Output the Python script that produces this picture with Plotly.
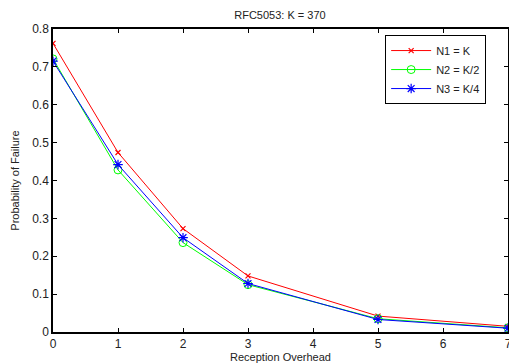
import plotly.graph_objects as go

overhead = [0, 1, 2, 3, 5, 7]
n1_k = [0.762, 0.474, 0.273, 0.148, 0.042, 0.015]
n2_k2 = [0.721, 0.428, 0.236, 0.125, 0.035, 0.011]
n3_k4 = [0.715, 0.442, 0.249, 0.128, 0.033, 0.010]
x_ticks = [0, 1, 2, 3, 4, 5, 6, 7]
y_ticks = [0, 0.1, 0.2, 0.3, 0.4, 0.5, 0.6, 0.7, 0.8]
y_tick_labels = ["0", "0.1", "0.2", "0.3", "0.4", "0.5", "0.6", "0.7", "0.8"]

fig = go.Figure()
fig.add_trace(go.Scatter(x=overhead, y=n1_k, mode="lines+markers", name="N1 = K",
                         line=dict(color="#ff0000", width=1),
                         marker=dict(symbol="x-thin-open", size=5, color="#ff0000",
                                     line=dict(color="#ff0000", width=1.2))))
fig.add_trace(go.Scatter(x=overhead, y=n2_k2, mode="lines+markers", name="N2 = K/2",
                         line=dict(color="#00ff00", width=1),
                         marker=dict(symbol="circle-open", size=8, color="#00ff00",
                                     line=dict(color="#00ff00", width=1))))
fig.add_trace(go.Scatter(x=overhead, y=n3_k4, mode="lines+markers", name="N3 = K/4",
                         line=dict(color="#0000ff", width=1),
                         marker=dict(symbol="asterisk-open", size=8, color="#0000ff",
                                     line=dict(color="#0000ff", width=1.2))))

axis_common = dict(showgrid=False, zeroline=False, showline=True, linecolor="black",
                   linewidth=1.5, mirror="ticks", ticks="inside", ticklen=4,
                   tickcolor="black", tickfont=dict(size=12, color="#222"),
                   automargin=False, ticklabeloverflow="allow")

fig.update_layout(
    width=509, height=364,
    margin=dict(l=53, r=1, t=29, b=32),
    paper_bgcolor="white", plot_bgcolor="white",
    font=dict(family="Liberation Sans, Arial, sans-serif", color="#222"),
    title=dict(text="RFC5053: K = 370", x=0.55, xanchor="center", y=0.958, yanchor="middle",
               font=dict(size=11, color="#222")),
    xaxis=dict(range=[0, 7], tickvals=x_ticks,
               title=dict(text="Reception Overhead", font=dict(size=11), standoff=0),
               **axis_common),
    yaxis=dict(range=[0, 0.8], tickvals=y_ticks, ticktext=y_tick_labels,
               title=dict(text="Probability of Failure", font=dict(size=11), standoff=10),
               **axis_common),
    legend=dict(x=0.73, y=0.98, xanchor="left", yanchor="top",
                bordercolor="black", borderwidth=1, bgcolor="white",
                font=dict(size=11, color="#222"), tracegroupgap=0, itemwidth=40),
    showlegend=True,
)

fig.write_html("out.html", config={"displayModeBar": False},
               post_script="document.body.style.margin='0';document.body.style.overflow='hidden';")
